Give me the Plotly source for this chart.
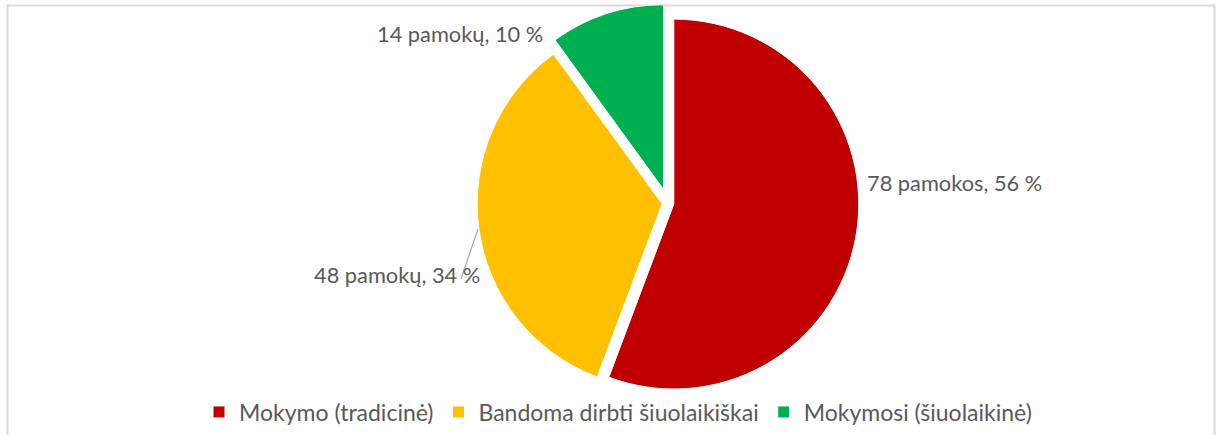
import plotly.graph_objects as go

categories = ["Mokymo (tradicinė)", "Bandoma dirbti šiuolaikiškai", "Mokymosi (šiuolaikinė)"]
values = [78, 48, 14]
units = ["pamokos", "pamokų", "pamokų"]
colors = ["#C00000", "#FFC000", "#00B050"]

total = sum(values)
labels_text = [f"{v} {u}, {round(v / total * 100)} %" for v, u in zip(values, units)]

W, H = 1218, 435
FONT = "Lato"
TXT = "#595959"

def px(x):
    return x / W

def py(y):
    return 1 - y / H

fig = go.Figure(go.Pie(
    labels=categories,
    values=values,
    textinfo="none",
    sort=False,
    direction="clockwise",
    rotation=0,
    pull=[0.032, 0.032, 0.076],
    marker=dict(colors=colors, line=dict(color="white", width=1)),
    domain=dict(x=[px(668 - 200), px(668 + 200)], y=[py(402), py(4)]),
    hoverinfo="label+value+percent",
))

# data labels (text from the data arrays)
label_pos = [
    dict(x=px(865), y=py(182), xanchor="left"),
    dict(x=px(482), y=py(274), xanchor="right"),
    dict(x=px(545), y=py(34), xanchor="right"),
]
for txt, pos in zip(labels_text, label_pos):
    fig.add_annotation(text=txt, xref="paper", yref="paper", showarrow=False,
                       yanchor="middle", font=dict(family=FONT, size=21.8, color=TXT), **pos)

# leader line for the yellow slice label
fig.add_shape(type="line", xref="paper", yref="paper",
              x0=px(478), y0=py(229), x1=px(461), y1=py(279),
              line=dict(color="#A6A6A6", width=1.2))

# chart border
fig.add_shape(type="rect", xref="paper", yref="paper",
              x0=px(7.5), x1=px(1214.5), y0=-0.05, y1=py(5.5),
              line=dict(color="#D9D9D9", width=2), fillcolor="rgba(0,0,0,0)", layer="below")

fig.update_layout(
    width=W, height=H,
    margin=dict(l=0, r=0, t=0, b=0, autoexpand=False),
    paper_bgcolor="white",
    plot_bgcolor="white",
    font=dict(family=FONT, color=TXT, size=21),
    showlegend=True,
    legend=dict(orientation="h", x=px(618), xanchor="center", y=py(412), yanchor="middle",
                font=dict(size=23, color=TXT, family=FONT),
                traceorder="normal", itemwidth=30, bgcolor="rgba(0,0,0,0)"),
)

fig.write_html("out.html", config={"displayModeBar": False},
               post_script="document.body.style.margin='0';")
